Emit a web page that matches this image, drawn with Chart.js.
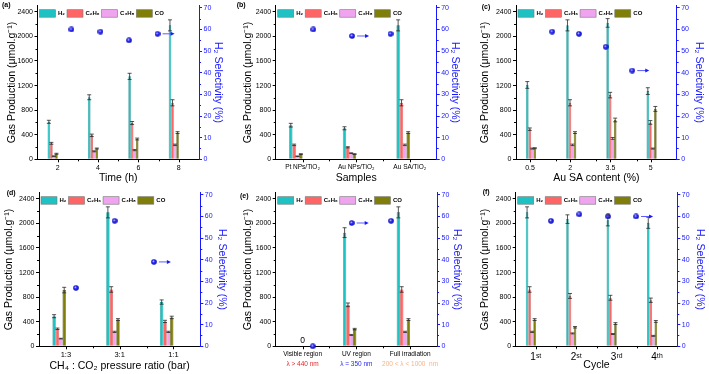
<!DOCTYPE html>
<html>
<head>
<meta charset="utf-8">
<script src="https://cdn.jsdelivr.net/npm/chart.js@4.4.1/dist/chart.umd.min.js"></script>
<style>
html, body { margin: 0; padding: 0; background: #fff; }
#wrap { position: relative; width: 709px; height: 374px; overflow: hidden; }
</style>
</head>
<body>
<div id="wrap"></div>
<script>
const seriesNames = ['H₂', 'C₂H₆', 'C₃H₈', 'CO'];
const productionTicks = [0, 400, 800, 1200, 1600, 2000, 2400];
const selectivityTicks = [0, 10, 20, 30, 40, 50, 60, 70];

// (a) reaction time
const timeLabels = ['2', '4', '6', '8'];
const timeH2 = [610, 1010, 1350, 2180];
const timeC2H6 = [260, 390, 590, 920];
const timeC3H8 = [50, 130, 150, 235];
const timeCO = [90, 175, 330, 435];
const timeErr = [[25, 40, 50, 90], [15, 20, 25, 50], [6, 8, 10, 12], [8, 8, 15, 15]];
const timeSel = [60, 59, 55, 58];
const timeSelX = [-0.24, 0.84, 1.9, 2.96];

// (b) samples
const sampleLabels = ['Pt NPs/TiO₂', 'Au NPs/TiO₂', 'Au SA/TiO₂'];
const sampleH2 = [555, 505, 2180];
const sampleC2H6 = [235, 195, 920];
const sampleC3H8 = [50, 100, 235];
const sampleCO = [85, 85, 435];
const sampleErr = [[30, 25, 90], [12, 10, 50], [4, 6, 12], [6, 6, 15]];
const sampleSel = [60, 57, 58];
const sampleSelX = [-0.2, 0.885, 1.96];

// (c) Au SA content
const contentLabels = ['0.5', '2', '3.5', '5'];
const contentH2 = [1210, 2180, 2220, 1110];
const contentC2H6 = [490, 920, 1045, 600];
const contentC3H8 = [175, 235, 340, 175];
const contentCO = [180, 435, 640, 820];
const contentErr = [[55, 90, 70, 55], [20, 50, 45, 30], [8, 12, 15, 8], [8, 15, 30, 40]];
const contentSel = [59, 58, 52, 41];
const contentSelX = [-0.15, 0.85, 1.85, 2.84];

// (d) CH4:CO2 ratio
const ratioLabels = ['1:3', '3:1', '1:1'];
const ratioH2 = [490, 2180, 720];
const ratioC2H6 = [285, 925, 405];
const ratioC3H8 = [125, 235, 235];
const ratioCO = [915, 435, 470];
const ratioErr = [[25, 90, 35], [12, 45, 18], [6, 10, 10], [45, 15, 20]];
const ratioSel = [27, 58, 39];
const ratioSelX = [-0.22, 0.86, 1.955];

// (e) irradiation
const lightLabels = ['Visible region', 'UV region', 'Full irradiation'];
const lightRanges = ['λ > 440 nm', 'λ = 350 nm', '200 < λ < 1000  nm'];
const lightH2 = [0, 1850, 2180];
const lightC2H6 = [0, 675, 925];
const lightC3H8 = [0, 185, 235];
const lightCO = [0, 280, 435];
const lightErr = [[0, 80, 90], [0, 30, 45], [0, 8, 10], [0, 12, 15]];
const lightSel = [0, 57, 58];
const lightSelX = [-0.215, 0.87, 1.97];

// (f) cycles
const cycleLabels = ['1ˢᵗ', '2ˢᵗ', '3ʳᵈ', '4ᵗʰ'];
const cycleH2 = [2180, 2070, 2050, 2010];
const cycleC2H6 = [925, 820, 790, 750];
const cycleC3H8 = [235, 210, 200, 170];
const cycleCO = [435, 310, 370, 405];
const cycleErr = [[90, 70, 90, 90], [45, 40, 40, 35], [10, 8, 8, 8], [15, 12, 15, 15]];
const cycleSel = [58, 61, 60, 60];
const cycleSelX = [-0.19, 0.86, 1.93, 2.97];

const FONT = "'Liberation Sans', Arial, sans-serif";
const BLUE = '#1818ff';
const seriesFill = ['#1fc2c2', '#ff6565', '#f0a4f0', '#7e7e08'];
const seriesEdge = ['#138a8a', '#c03c3c', '#b476b4', '#4c4c00'];

// shaded ball used for the selectivity points
function makeBall() {
    const c = document.createElement('canvas');
    c.width = 6; c.height = 6;
    const g = c.getContext('2d');
    const grd = g.createRadialGradient(2.3, 2.2, 0.2, 3, 3, 3);
    grd.addColorStop(0, '#d8d8ff');
    grd.addColorStop(0.35, '#3434ff');
    grd.addColorStop(1, '#0000a8');
    g.fillStyle = grd;
    g.beginPath(); g.arc(3, 3, 2.8, 0, Math.PI * 2); g.fill();
    return c;
}
const ball = makeBall();

function seg(ctx, x0, y0, x1, y1) {
    ctx.beginPath(); ctx.moveTo(x0, y0); ctx.lineTo(x1, y1); ctx.stroke();
}

const decor = {
    id: 'decor',
    afterDatasetsDraw(chart) {
        const ctx = chart.ctx, sy = chart.scales.y;
        ctx.save();
        ctx.strokeStyle = '#2a2a2a';
        ctx.lineWidth = 0.8;
        chart.data.datasets.forEach((ds, di) => {
            if (!ds.errors) return;
            chart.getDatasetMeta(di).data.forEach((bar, i) => {
                const e = ds.errors[i];
                if (!e) return;
                const top = sy.getPixelForValue(ds.data[i] + e);
                const bot = sy.getPixelForValue(ds.data[i] - e);
                const w = 2;
                seg(ctx, bar.x, top, bar.x, bot);
                seg(ctx, bar.x - w, top, bar.x + w, top);
                seg(ctx, bar.x - w, bot, bar.x + w, bot);
            });
        });
        ctx.restore();
    },
    afterDraw(chart, args, o) {
        const ctx = chart.ctx, a = chart.chartArea;
        const sx = chart.scales.x, sy = chart.scales.y, sy2 = chart.scales.y2;
        ctx.save();
        ctx.lineWidth = 1;

        // x ticks: major at groups, minor between them
        const n = sx.ticks.length;
        ctx.strokeStyle = '#000';
        for (let i = 0; i < n; i++) {
            const px = Math.round(sx.getPixelForTick(i) + (o.shift || 0)) + 0.5;
            seg(ctx, px, a.bottom, px, a.bottom + 3);
        }
        for (let i = 1; i < n; i++) {
            const px = Math.round(a.left + i * (a.right - a.left) / n) + 0.5;
            seg(ctx, px, a.bottom, px, a.bottom + 2);
        }
        // y minor ticks
        for (let v = 200; v < sy.max; v += 400) {
            const py = Math.round(sy.getPixelForValue(v)) + 0.5;
            seg(ctx, a.left - 2, py, a.left, py);
        }
        ctx.strokeStyle = BLUE;
        for (let v = 5; v < sy2.max; v += 10) {
            const py = Math.round(sy2.getPixelForValue(v)) + 0.5;
            seg(ctx, a.right, py, a.right + 2, py);
        }

        // legend inside the plot
        ctx.font = `bold 6px ${FONT}`;
        ctx.textBaseline = 'middle';
        let lx = a.left + 2;
        const ly = a.top + 4;
        seriesNames.forEach((name, i) => {
            ctx.fillStyle = seriesFill[i];
            ctx.fillRect(lx, ly, 16, 7.5);
            ctx.strokeStyle = '#777';
            ctx.lineWidth = 0.6;
            ctx.strokeRect(lx, ly, 16, 7.5);
            ctx.fillStyle = '#000';
            ctx.fillText(name, lx + 18.5, ly + 4);
            lx += 18.5 + ctx.measureText(name).width + 2;
        });

        // arrow pointing to the selectivity axis
        const sel = chart.getDatasetMeta(chart.data.datasets.length - 1).data[o.arrowAt];
        if (sel) {
            const x0 = sel.x + 5, x1 = sel.x + 17;
            ctx.strokeStyle = '#5a5aff';
            ctx.lineWidth = 1;
            seg(ctx, x0, sel.y, x1 - 2, sel.y);
            ctx.fillStyle = BLUE;
            ctx.beginPath();
            ctx.moveTo(x1, sel.y); ctx.lineTo(x1 - 4, sel.y - 2); ctx.lineTo(x1 - 4, sel.y + 2);
            ctx.closePath(); ctx.fill();
        }

        // zero label
        if (o.zeroAt !== undefined) {
            ctx.font = `8.5px ${FONT}`;
            ctx.fillStyle = '#000';
            ctx.textAlign = 'center';
            ctx.fillText('0', sx.getPixelForTick(o.zeroAt), sy.getPixelForValue(0) - 5.5);
        }

        // coloured second line of the x labels
        if (o.sub) {
            ctx.font = `6.5px ${FONT}`;
            ctx.textAlign = 'center';
            o.sub.forEach((t, i) => {
                ctx.fillStyle = o.subColors[i];
                ctx.fillText(t, sx.getPixelForTick(i), a.bottom + 17.7);
            });
        }

        // panel tag
        ctx.font = `bold 7px ${FONT}`;
        ctx.fillStyle = '#000';
        ctx.textAlign = 'left';
        ctx.textBaseline = 'top';
        ctx.fillText(o.tag[0], o.tag[1], o.tag[2]);
        ctx.restore();
    }
};
Chart.register(decor);

const panels = [
    { box: [0, 0, 236, 187], lw: 37.5, rw: 37, top: 5, bh: 27.7, tag: ['(a)', 2, 2],
      labels: timeLabels, series: [timeH2, timeC2H6, timeC3H8, timeCO], errors: timeErr,
      sel: timeSel, selX: timeSelX, arrowAt: 3,
      xTitle: 'Time (h)', xPad: 2.4, yPad: 5.4, y2Pad: 11.4, xTick: 7 },
    { box: [236, 0, 236, 187], lw: 39.7, rw: 35.3, top: 5, bh: 27.7, tag: ['(b)', 0.7, 2],
      labels: sampleLabels, series: [sampleH2, sampleC2H6, sampleC3H8, sampleCO], errors: sampleErr,
      sel: sampleSel, selX: sampleSelX, arrowAt: 1,
      xTitle: 'Samples', xPad: 3, yPad: 6, y2Pad: 10.7, xTick: 6.5 },
    { box: [472, 0, 237, 187], lw: 44, rw: 32.3, top: 5, bh: 27.7, tag: ['(c)', 9.7, 4],
      labels: contentLabels, series: [contentH2, contentC2H6, contentC3H8, contentCO], errors: contentErr,
      sel: contentSel, selX: contentSelX, arrowAt: 3, shift: -6,
      xTitle: 'Au SA content (%)', xPad: 3, yPad: 6.7, y2Pad: 3.4, xTick: 7 },
    { box: [0, 187, 236, 187], lw: 39, rw: 35.7, top: 4.7, bh: 27.7, tag: ['(d)', 6.7, 3],
      labels: ratioLabels, series: [ratioH2, ratioC2H6, ratioC3H8, ratioCO], errors: ratioErr,
      sel: ratioSel, selX: ratioSelX, arrowAt: 2,
      xTitle: 'CH₄ : CO₂ pressure ratio (bar)', xPad: 1.7, yPad: 3, y2Pad: 8, xTick: 7.5 },
    { box: [236, 187, 236, 187], lw: 39.7, rw: 35, top: 4.7, bh: 27.7, tag: ['(e)', 4, 5.3],
      labels: lightLabels, series: [lightH2, lightC2H6, lightC3H8, lightCO], errors: lightErr,
      sel: lightSel, selX: lightSelX, arrowAt: 1, zeroAt: 0,
      sub: lightRanges, subColors: ['#e8262a', '#2a2aee', '#f6b48a'],
      xTitle: null, yPad: 6, y2Pad: 9, xTick: 6.5 },
    { box: [472, 187, 237, 187], lw: 43.7, rw: 31.7, top: 4.7, bh: 27.7, tag: ['(f)', 10.7, 1.3],
      labels: cycleLabels, series: [cycleH2, cycleC2H6, cycleC3H8, cycleCO], errors: cycleErr,
      sel: cycleSel, selX: cycleSelX, arrowAt: 3,
      xTitle: 'Cycle', xPad: 2.7, yPad: 6.7, y2Pad: 2.7, xTick: 10 }
];

function buildPanel(p) {
    const [cx, cy, cw, ch] = p.box;
    const cv = document.createElement('canvas');
    cv.width = cw; cv.height = ch;
    cv.style.cssText = `position:absolute;left:${cx}px;top:${cy}px;width:${cw}px;height:${ch}px`;
    document.getElementById('wrap').appendChild(cv);

    const datasets = p.series.map((vals, i) => ({
        type: 'bar', label: seriesNames[i], data: vals, errors: p.errors[i],
        backgroundColor: seriesFill[i], borderColor: seriesEdge[i], borderWidth: 0.6,
        barPercentage: 1, categoryPercentage: 0.5, xAxisID: 'x', yAxisID: 'y', order: 1
    }));
    datasets.push({
        type: 'scatter', label: 'H₂ selectivity',
        data: p.selX.map((x, i) => ({ x: x, y: p.sel[i] })),
        xAxisID: 'xs', yAxisID: 'y2', pointStyle: ball, clip: false, order: 0
    });

    const titleFont = { family: FONT, size: 10.5 };
    const tickFont = { family: FONT, size: 7 };
    const plain = v => String(v);

    new Chart(cv, {
        type: 'bar',
        data: { labels: p.labels, datasets: datasets },
        options: {
            responsive: false,
            animation: false,
            events: [],
            layout: { padding: { top: p.top, left: 0, right: 0, bottom: 0 } },
            plugins: {
                legend: { display: false },
                tooltip: { enabled: false },
                decor: { tag: p.tag, arrowAt: p.arrowAt, shift: p.shift, zeroAt: p.zeroAt,
                         sub: p.sub, subColors: p.subColors }
            },
            scales: {
                x: {
                    type: 'category', position: 'bottom', offset: true,
                    grid: { drawOnChartArea: false, tickLength: 3, tickColor: 'rgba(0,0,0,0)', offset: false },
                    border: { color: '#000', width: 1 },
                    ticks: { font: { family: FONT, size: p.xTick }, color: '#000', padding: 1.5,
                             autoSkip: false, maxRotation: 0, labelOffset: p.shift || 0 },
                    title: p.xTitle ? { display: true, text: p.xTitle, color: '#000', font: titleFont,
                                        padding: { top: 0, bottom: p.xPad } } : { display: false },
                    afterFit: s => { s.height = p.bh; }
                },
                xs: { type: 'linear', display: false, min: -0.5, max: p.labels.length - 0.5 },
                y: {
                    position: 'left', min: 0, max: 2500,
                    afterBuildTicks: s => { s.ticks = productionTicks.map(v => ({ value: v })); },
                    ticks: { font: tickFont, color: '#000', padding: 1.5, callback: plain },
                    grid: { drawOnChartArea: false, tickLength: 3, color: '#000' },
                    border: { color: '#000', width: 1 },
                    title: { display: true, text: 'Gas Production (μmol.g⁻¹)', color: '#000', font: titleFont,
                             padding: { top: p.yPad, bottom: 0 } },
                    afterFit: s => { s.width = p.lw; }
                },
                y2: {
                    position: 'right', min: 0, max: 71,
                    afterBuildTicks: s => { s.ticks = selectivityTicks.map(v => ({ value: v })); },
                    ticks: { font: tickFont, color: BLUE, padding: 1.5, callback: plain },
                    grid: { drawOnChartArea: false, tickLength: 3, color: BLUE },
                    border: { color: BLUE, width: 1 },
                    title: { display: true, text: 'H₂ Selectivity (%)', color: BLUE, font: titleFont,
                             padding: { top: p.y2Pad, bottom: 0 } },
                    afterFit: s => { s.width = p.rw; }
                }
            }
        }
    });
}

panels.forEach(buildPanel);
</script>
</body>
</html>
